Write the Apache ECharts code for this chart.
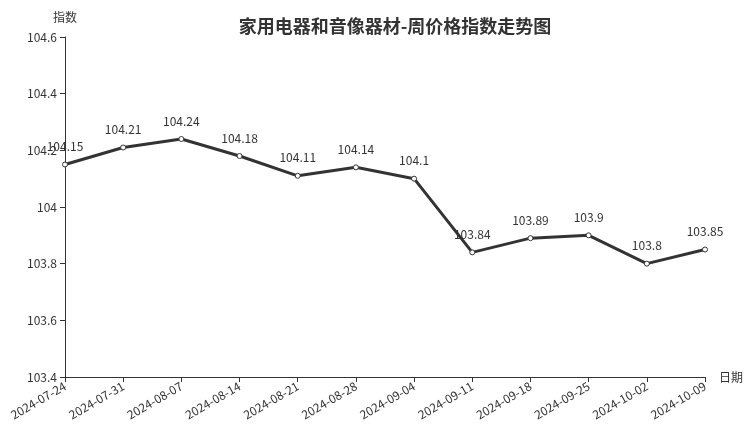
<!DOCTYPE html>
<html><head><meta charset="utf-8">
<script src="https://cdn.jsdelivr.net/npm/echarts@6/dist/echarts.min.js"></script>
<style>html,body{margin:0;padding:0;background:#fff}#c{width:752px;height:427px}</style>
</head><body><div id="c"></div>
<script>
const categories = ['2024-07-24','2024-07-31','2024-08-07','2024-08-14','2024-08-21','2024-08-28','2024-09-04','2024-09-11','2024-09-18','2024-09-25','2024-10-02','2024-10-09'];
const values = [104.15,104.21,104.24,104.18,104.11,104.14,104.1,103.84,103.89,103.9,103.8,103.85];
const yMin = 103.4, yMax = 104.6, yStep = 0.2;
const chart = echarts.init(document.getElementById('c'));
const font = '"Noto Sans CJK SC", "Noto Sans", sans-serif';
chart.setOption({
  animation:false,
  textStyle:{fontFamily:font},
  title:{text:'家用电器和音像器材-周价格指数走势图',left:390,textAlign:'center',top:12,
    textStyle:{fontSize:18,fontWeight:'bold',color:'#333',fontFamily:font}},
  grid:{left:65,right:47,top:37,bottom:50},
  xAxis:{type:'category',data:categories,boundaryGap:false,name:'日期',nameGap:14,
    nameTextStyle:{color:'#333',fontSize:12,fontFamily:font},
    axisLine:{lineStyle:{color:'#333'}},axisTick:{alignWithLabel:true,lineStyle:{color:'#333'}},
    axisLabel:{rotate:30,color:'#333',fontSize:12,interval:0,fontFamily:font}},
  yAxis:{type:'value',min:yMin,max:yMax,interval:yStep,name:'指数',nameGap:14,
    nameTextStyle:{color:'#333',fontSize:12,fontFamily:font},
    axisLine:{show:true,lineStyle:{color:'#333'}},axisTick:{show:true,lineStyle:{color:'#333'}},
    splitLine:{show:false},
    axisLabel:{color:'#333',fontSize:12,fontFamily:font,formatter:v=>String(Math.round(v*10)/10)}},
  series:[{type:'line',data:values,symbol:'circle',symbolSize:5,
    lineStyle:{color:'#333',width:3},itemStyle:{color:'#fff',borderColor:'#333',borderWidth:1},
    label:{show:true,position:'top',distance:9,color:'#333',fontSize:12,fontFamily:font}}]
});
</script></body></html>
